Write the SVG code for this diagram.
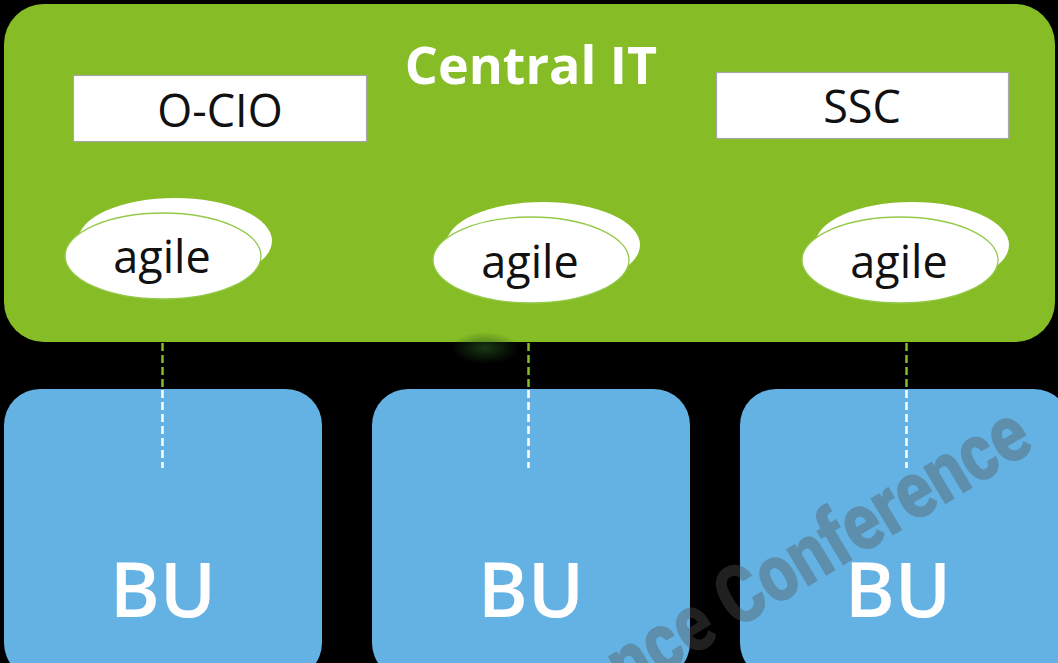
<svg xmlns="http://www.w3.org/2000/svg" width="1058" height="663" viewBox="0 0 1058 663">
  <defs>
    <style>
      .green { fill: #86bc26; }
      .box { fill: #ffffff; stroke: #a8a8a8; stroke-width: 1.2; }
      .boxtext { font-family: "Open Sans", "Noto Sans", sans-serif; font-size: 45px; fill: #111111; text-anchor: middle; }
      .title { font-family: "Open Sans", "Noto Sans", sans-serif; font-weight: 700; font-size: 52px; fill: #ffffff; text-anchor: middle; }
      .back { fill: #ffffff; }
      .front { fill: #ffffff; stroke: #93c94a; stroke-width: 1.3; }
      .agile { font-family: "Open Sans", "Noto Sans", sans-serif; font-size: 45px; fill: #111111; text-anchor: middle; }
      .bu { fill: #63b2e3; }
      .butext { font-family: "Open Sans", "Noto Sans", sans-serif; font-weight: 600; font-size: 76px; fill: #ffffff; text-anchor: middle; }
      .dash-g { stroke: #86bc26; stroke-width: 2.5; stroke-dasharray: 8 4; fill: none; }
      .dash-w { stroke: #ffffff; stroke-width: 2.5; stroke-dasharray: 8 4; fill: none; }
      .wm { font-family: "Roboto", "Liberation Sans", sans-serif; font-weight: 900; font-size: 82px; fill: #555555; fill-opacity: 0.38; }
    </style>
    <radialGradient id="glow" cx="0.5" cy="0.5" r="0.5">
      <stop offset="0" stop-color="#24501a" stop-opacity="0.7"/>
      <stop offset="1" stop-color="#24501a" stop-opacity="0"/>
    </radialGradient>
  </defs>

  <rect x="0" y="0" width="1058" height="663" fill="#000000"/>

  <g id="central-it">
    <rect class="green" x="4" y="4" width="1051" height="338" rx="40" ry="40"/>
    <text class="title" x="531" y="84">Central IT</text>
  </g>

  <ellipse cx="485" cy="348" rx="34" ry="16" fill="url(#glow)"/>

  <g id="o-cio">
    <rect class="box" x="73.5" y="75.5" width="293" height="66"/>
    <text class="boxtext" x="220" y="127">O-CIO</text>
  </g>

  <g id="ssc">
    <rect class="box" x="716.5" y="72.5" width="292" height="66"/>
    <text class="boxtext" x="862" y="123">SSC</text>
  </g>

  <g id="agile-1">
    <ellipse class="back" cx="175" cy="241" rx="97" ry="43"/>
    <ellipse class="front" cx="163" cy="256" rx="98" ry="43"/>
    <text class="agile" x="162" y="273">agile</text>
  </g>

  <g id="agile-2">
    <ellipse class="back" cx="543" cy="245" rx="97" ry="43"/>
    <ellipse class="front" cx="531" cy="260" rx="98" ry="43"/>
    <text class="agile" x="530" y="278">agile</text>
  </g>

  <g id="agile-3">
    <ellipse class="back" cx="912" cy="245" rx="97" ry="43"/>
    <ellipse class="front" cx="900" cy="260" rx="98" ry="43"/>
    <text class="agile" x="899" y="278">agile</text>
  </g>

  <g id="bu-1">
    <rect class="bu" x="4" y="389" width="318" height="290" rx="36" ry="36"/>
    <text class="butext" x="163" y="617">BU</text>
  </g>

  <g id="bu-2">
    <rect class="bu" x="372" y="389" width="318" height="290" rx="36" ry="36"/>
    <text class="butext" x="531" y="617">BU</text>
  </g>

  <g id="bu-3">
    <rect class="bu" x="740" y="389" width="330" height="290" rx="36" ry="36"/>
    <text class="butext" x="898" y="617">BU</text>
  </g>

  <g id="connectors">
    <line class="dash-g" x1="162.5" y1="343" x2="162.5" y2="389"/>
    <line class="dash-w" x1="162.5" y1="390" x2="162.5" y2="468"/>
    <line class="dash-g" x1="528.5" y1="343" x2="528.5" y2="389"/>
    <line class="dash-w" x1="528.5" y1="390" x2="528.5" y2="468"/>
    <line class="dash-g" x1="906.5" y1="343" x2="906.5" y2="389"/>
    <line class="dash-w" x1="906.5" y1="390" x2="906.5" y2="468"/>
  </g>

  <g id="watermark">
    <text class="wm" transform="translate(596 714) rotate(-31) scale(0.82 1)">ence Conference</text>
  </g>
</svg>
